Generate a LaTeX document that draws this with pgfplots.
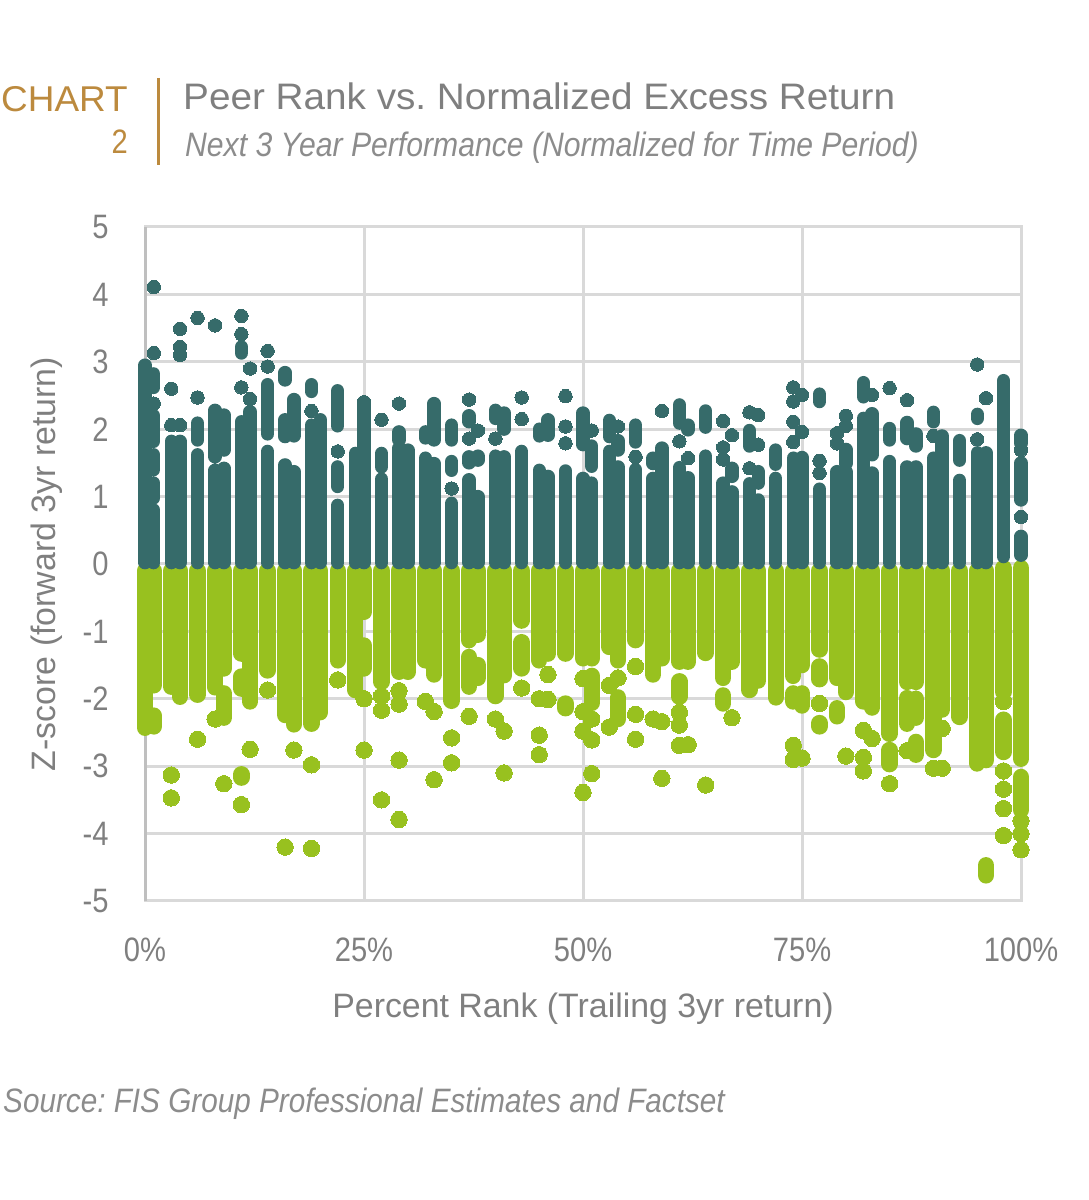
\documentclass[border=0pt]{standalone}
\usepackage{pgfplots}
\pgfplotsset{compat=1.18}
\usepackage{fontspec}
\setmainfont[FakeStretch=0.86]{Liberation Sans}
\newfontfamily\tlf[FakeStretch=1.05]{Liberation Sans}
\newfontfamily\chf[FakeStretch=1.03]{Liberation Sans}
\newfontfamily\lbf[FakeStretch=1.0]{Liberation Sans}
\newfontfamily\tsf[FakeStretch=0.89,ItalicFont={Liberation Sans Italic}]{Liberation Sans}
\newfontfamily\ttf[FakeStretch=0.877,ItalicFont={Liberation Sans Italic}]{Liberation Sans}
\definecolor{dk}{HTML}{366B6A}
\definecolor{gn}{HTML}{98C11F}
\definecolor{gr}{HTML}{D9D9D9}
\definecolor{ax}{HTML}{BFBFBF}
\definecolor{gd}{HTML}{BC8A3E}
\definecolor{tx}{HTML}{7F7F7F}
\definecolor{tx2}{HTML}{8C8C8C}
\frenchspacing
\begin{document}
\begin{tikzpicture}[x=1bp,y=1bp]
\useasboundingbox (0,0) rectangle (1089,1200);
\begin{axis}[
  at={(145bp,299bp)},anchor=south west,
  width=876bp,height=674bp,scale only axis,
  xmin=0,xmax=100,ymin=-5,ymax=5,clip=false,
  unbounded coords=jump,
  xtick={0,25,50,75,100},xticklabels={0\%,25\%,50\%,75\%,100\%},
  ytick={-5,-4,-3,-2,-1,0,1,2,3,4,5},yticklabels={-5,-4,-3,-2,-1,0,1,2,3,4,5},
  grid=major,
  grid style={gr,line width=3bp},
  axis line style={gr,line width=3bp},
  major tick length=0pt,
  tick label style={text=tx,font=\fontsize{34}{34}\selectfont},
  xticklabel style={yshift=-33bp},
  yticklabel style={xshift=-33bp},
  xlabel={Percent Rank (Trailing 3yr return)},
  ylabel={Z-score (forward 3yr return)},
  label style={text=tx,font=\fontsize{34}{34}\selectfont\lbf},
  xlabel style={at={(axis description cs:0.5,-0.16)},anchor=center},
  ylabel style={at={(axis description cs:-0.112,0.5)},anchor=center,rotate=0},
]
\addplot[ax,line width=3bp] coordinates {(0,-5)(0,5)};
% green runs of touching points
\addplot[gn,line width=16.4bp,line cap=round,line join=round] coordinates {
(0,-0.1)(0,-2.43)(0,nan) (1,-0.1)(1,-1.8)(1,nan) (1,-2.25)(1,-2.41)(1,nan)
(3,-0.1)(3,-1.82)(3,nan) (4,-0.1)(4,-1.97)(4,nan) (6,-0.1)(6,-1.94)(6,nan)
(8,-0.1)(8,-1.83)(8,nan) (9,-0.1)(9,-1.55)(9,nan) (9,-1.92)(9,-2.28)(9,nan)
(11,-0.1)(11,-1.33)(11,nan) (11,-1.67)(11,-1.85)(11,nan) (11,-3.12)(11,-3.17)(11,nan)
(12,-0.1)(12,-2.04)(12,nan) (14,-0.1)(14,-1.58)(14,nan) (16,-0.1)(16,-2.24)(16,nan)
(17,-0.1)(17,-2.38)(17,nan) (19,-0.1)(19,-2.37)(19,nan) (20,-0.1)(20,-2.2)(20,nan)
(22,-0.1)(22,-1.43)(22,nan) (24,-0.1)(24,-1.87)(24,nan) (25,-0.1)(25,-0.71)(25,nan)
(25,-1.21)(25,-1.55)(25,nan) (27,-0.1)(27,-1.75)(27,nan) (29,-0.1)(29,-1.6)(29,nan)
(30,-0.1)(30,-1.6)(30,nan) (32,-0.1)(32,-1.43)(32,nan) (33,-0.1)(33,-1.64)(33,nan)
(35,-0.1)(35,-2.03)(35,nan) (37,-0.1)(37,-1.13)(37,nan) (37,-1.38)(37,-1.82)(37,nan)
(38,-0.1)(38,-1.05)(38,nan) (38,-1.5)(38,-1.69)(38,nan) (40,-0.1)(40,-1.96)(40,nan)
(41,-0.1)(41,-1.65)(41,nan) (43,-0.1)(43,-0.84)(43,nan) (43,-1.16)(43,-1.55)(43,nan)
(45,-0.1)(45,-1.43)(45,nan) (46,-0.1)(46,-1.33)(46,nan) (48,-0.1)(48,-1.33)(48,nan)
(48,-2.07)(48,-2.14)(48,nan) (50,-0.1)(50,-1.4)(50,nan) (51,-0.1)(51,-1.4)(51,nan)
(51,-1.66)(51,-2.06)(51,nan) (53,-0.1)(53,-1.23)(53,nan) (54,-0.1)(54,-1.43)(54,nan)
(54,-1.98)(54,-2.3)(54,nan) (56,-0.1)(56,-1.13)(56,nan) (58,-0.1)(58,-1.64)(58,nan)
(59,-0.1)(59,-1.4)(59,nan) (61,-0.1)(61,-1.45)(61,nan) (61,-1.74)(61,-1.97)(61,nan)
(62,-0.1)(62,-1.45)(62,nan) (64,-0.1)(64,-1.32)(64,nan) (66,-0.1)(66,-1.69)(66,nan)
(66,-1.95)(66,-2.07)(66,nan) (67,-0.1)(67,-1.45)(67,nan) (69,-0.1)(69,-1.87)(69,nan)
(70,-0.1)(70,-1.73)(70,nan) (72,-0.1)(72,-1.98)(72,nan) (74,-0.1)(74,-1.66)(74,nan)
(74,-1.92)(74,-2.04)(74,nan) (75,-0.1)(75,-1.5)(75,nan) (75,-1.92)(75,-2.1)(75,nan)
(77,-0.1)(77,-1.27)(77,nan) (77,-1.52)(77,-1.71)(77,nan) (77,-2.36)(77,-2.41)(77,nan)
(79,-0.1)(79,-1.69)(79,nan) (79,-2.14)(79,-2.26)(79,nan) (80,-0.1)(80,-1.9)(80,nan)
(82,-0.1)(82,-2.04)(82,nan) (83,-0.1)(83,-2.13)(83,nan) (85,-0.1)(85,-2.52)(85,nan)
(85,-2.76)(85,-2.97)(85,nan) (87,-0.1)(87,-1.75)(87,nan) (87,-1.99)(87,-2.37)(87,nan)
(88,-0.1)(88,-1.75)(88,nan) (88,-2.0)(88,-2.28)(88,nan) (88,-2.64)(88,-2.83)(88,nan)
(90,-0.1)(90,-2.76)(90,nan) (91,-0.1)(91,-2.16)(91,nan) (93,-0.1)(93,-2.27)(93,nan)
(95,-0.1)(95,-2.96)(95,nan) (96,-0.1)(96,-2.91)(96,nan) (96,-4.47)(96,-4.62)(96,nan)
(98,-0.06)(98,-1.9)(98,nan) (98,-2.31)(98,-2.79)(98,nan)
(100,-0.06)(100,-2.89)(100,nan) (100,-3.16)(100,-3.65)(100,nan)
};
% green separate points
\addplot[gn,only marks,mark=*,mark size=8.2bp,line width=0pt,mark options={draw=gn,fill=gn}] coordinates {
(3,-3.13)(3,-3.47)(6,-2.6)(8,-2.3)(9,-3.26)(12,-2.75)(11,-3.57)(14,-1.87)
(16,-4.2)(17,-2.76)(19,-2.98)(19,-4.22)(22,-1.72)(25,-2.0)(25,-2.76)(27,-1.96)(27,-2.17)
(27,-3.5)(29,-1.88)(29,-2.08)(29,-2.91)(29,-3.79)(32,-2.04)(33,-2.19)(33,-3.2)
(35,-2.58)(35,-2.95)(37,-2.26)(40,-2.3)(41,-2.48)(41,-3.1)(43,-1.84)(45,-2.0)(45,-2.54)
(45,-2.83)(46,-1.64)(46,-2.01)(50,-1.7)(50,-2.19)(50,-2.48)(50,-3.39)(51,-2.3)(51,-2.61)
(51,-3.11)(53,-1.8)(53,-2.42)(54,-1.69)(56,-1.52)(56,-2.23)(56,-2.6)(58,-2.3)(59,-2.34)
(59,-3.18)(61,-2.2)(61,-2.39)(61,-2.69)(62,-2.68)(64,-3.28)(67,-2.28)(74,-2.69)(74,-2.9)
(75,-2.88)(77,-2.07)(80,-2.85)(82,-2.47)(82,-2.87)(82,-3.07)(83,-2.59)(85,-3.26)(87,-2.77)
(90,-3.03)(91,-2.44)(91,-3.03)(98,-2.04)(98,-3.07)(98,-3.34)(98,-3.63)(98,-4.03)
(100,-3.81)(100,-4.0)(100,-4.24)
};
% dark runs of touching points
\addplot[dk,line width=13.4bp,line cap=round,line join=round] coordinates {
(0,2.95)(0,0.02)(0,nan) (1,2.82)(1,2.62)(1,nan) (1,2.2)(1,1.82)(1,nan) (1,1.62)(1,1.4)(1,nan)
(1,1.2)(1,0.98)(1,nan) (1,0.8)(1,0.02)(1,nan) (3,1.82)(3,0.02)(3,nan) (4,1.82)(4,0.02)(4,nan)
(6,2.09)(6,1.84)(6,nan) (6,1.62)(6,0.02)(6,nan) (8,2.28)(8,1.59)(8,nan) (8,1.39)(8,0.02)(8,nan)
(9,2.21)(9,1.69)(9,nan) (9,1.42)(9,0.02)(9,nan) (11,3.22)(11,3.13)(11,nan) (11,2.11)(11,0.02)(11,nan)
(12,2.26)(12,0.02)(12,nan) (14,2.66)(14,1.93)(14,nan) (14,1.67)(14,0.02)(14,nan)
(16,2.84)(16,2.73)(16,nan) (16,2.14)(16,1.89)(16,nan) (16,1.47)(16,0.02)(16,nan)
(17,2.44)(17,1.9)(17,nan) (17,1.37)(17,0.02)(17,nan) (19,2.66)(19,2.56)(19,nan) (19,2.06)(19,0.02)(19,nan)
(20,2.14)(20,0.02)(20,nan) (22,2.57)(22,2.05)(22,nan) (22,1.44)(22,1.15)(22,nan) (22,0.87)(22,0.02)(22,nan)
(24,1.64)(24,0.02)(24,nan) (25,2.4)(25,0.02)(25,nan) (27,1.64)(27,1.44)(27,nan) (27,1.26)(27,0.02)(27,nan)
(29,1.96)(29,1.84)(29,nan) (29,1.72)(29,0.02)(29,nan) (30,1.69)(30,0.02)(30,nan)
(32,1.96)(32,1.87)(32,nan) (32,1.57)(32,0.02)(32,nan) (33,2.38)(33,1.84)(33,nan) (33,1.49)(33,0.02)(33,nan)
(35,2.06)(35,1.84)(35,nan) (35,1.52)(35,1.39)(35,nan) (35,0.9)(35,0.02)(35,nan)
(37,2.2)(37,2.11)(37,nan) (37,1.59)(37,1.5)(37,nan) (37,1.25)(37,0.02)(37,nan)
(38,1.6)(38,1.54)(38,nan) (38,1.0)(38,0.02)(38,nan) (40,2.28)(40,2.16)(40,nan) (40,1.6)(40,0.02)(40,nan)
(41,2.24)(41,2.0)(41,nan) (41,1.59)(41,0.02)(41,nan) (43,1.67)(43,0.02)(43,nan)
(45,2.0)(45,1.9)(45,nan) (45,1.39)(45,0.02)(45,nan) (46,2.14)(46,1.91)(46,nan) (46,1.3)(46,0.02)(46,nan)
(48,1.38)(48,0.02)(48,nan) (50,2.24)(50,1.77)(50,nan) (50,1.27)(50,0.02)(50,nan)
(51,1.75)(51,1.45)(51,nan) (51,1.2)(51,0.02)(51,nan) (53,2.13)(53,1.89)(53,nan) (53,1.67)(53,0.02)(53,nan)
(54,1.83)(54,1.69)(54,nan) (54,1.44)(54,0.02)(54,nan) (56,2.06)(56,1.81)(56,nan) (56,1.4)(56,0.02)(56,nan)
(58,1.57)(58,1.49)(58,nan) (58,1.27)(58,0.02)(58,nan) (59,1.72)(59,0.02)(59,nan)
(61,2.36)(61,2.09)(61,nan) (61,1.43)(61,0.02)(61,nan) (62,2.06)(62,1.99)(62,nan) (62,1.28)(62,0.02)(62,nan)
(64,2.27)(64,2.03)(64,nan) (64,1.6)(64,0.02)(64,nan) (66,1.2)(66,0.02)(66,nan)
(67,1.42)(67,1.3)(67,nan) (67,1.07)(67,0.02)(67,nan) (69,1.98)(69,1.75)(69,nan) (69,1.19)(69,0.02)(69,nan)
(70,1.37)(70,1.2)(70,nan) (70,0.95)(70,0.02)(70,nan) (72,1.69)(72,1.48)(72,nan) (72,1.27)(72,0.02)(72,nan)
(74,1.57)(74,0.02)(74,nan) (75,1.58)(75,0.02)(75,nan) (77,2.52)(77,2.41)(77,nan) (77,1.11)(77,0.02)(77,nan)
(79,1.37)(79,0.02)(79,nan) (80,1.7)(80,1.49)(80,nan) (80,1.37)(80,0.02)(80,nan)
(82,2.69)(82,2.48)(82,nan) (82,2.16)(82,0.02)(82,nan) (83,2.23)(83,1.62)(83,nan) (83,1.35)(83,0.02)(83,nan)
(85,2.01)(85,1.84)(85,nan) (85,1.52)(85,0.02)(85,nan) (87,2.1)(87,1.86)(87,nan) (87,1.44)(87,0.02)(87,nan)
(88,1.93)(88,1.75)(88,nan) (88,1.44)(88,0.02)(88,nan) (90,2.25)(90,2.11)(90,nan) (90,1.57)(90,0.02)(90,nan)
(91,1.9)(91,0.02)(91,nan) (93,1.83)(93,1.54)(93,nan) (93,1.24)(93,0.02)(93,nan)
(95,2.22)(95,2.16)(95,nan) (95,1.65)(95,0.02)(95,nan) (96,1.65)(96,0.02)(96,nan)
(98,2.72)(98,0.11)(98,nan) (100,1.91)(100,1.79)(100,nan) (100,1.5)(100,0.95)(100,nan) (100,0.41)(100,0.13)(100,nan)
};
% dark separate points
\addplot[dk,only marks,mark=*,mark size=6.7bp,line width=0pt,mark options={draw=dk,fill=dk}] coordinates {
(1,4.11)(1,3.13)(1,2.38)(3,2.6)(3,2.06)(4,3.49)(4,3.22)(4,3.1)(4,2.06)(6,3.65)(6,2.47)(8,3.54)
(11,3.68)(11,3.41)(11,2.62)(12,2.9)(12,2.45)(14,3.16)(14,2.93)(19,2.27)(22,1.67)(25,2.4)(27,2.14)
(29,2.38)(35,1.12)(37,2.44)(37,1.86)(38,1.98)(40,1.86)(43,2.47)(43,2.15)(48,2.49)(48,2.04)(48,1.79)
(51,1.98)(54,2.04)(56,1.59)(59,2.27)(61,1.82)(62,1.57)(66,2.12)(66,1.73)(66,1.55)(67,1.91)
(69,2.25)(69,1.42)(70,2.21)(70,1.77)(74,2.62)(74,2.41)(74,2.11)(74,1.81)(75,2.51)(75,1.96)
(77,1.53)(77,1.35)(79,1.94)(79,1.79)(80,2.2)(80,2.05)(83,2.51)(85,2.61)(87,2.43)(90,1.9)
(95,2.96)(95,1.85)(96,2.46)(100,1.69)(100,0.7)
};
\end{axis}
\node[anchor=base east,text=gd,font=\fontsize{36}{36}\selectfont\chf,inner sep=0pt] at (128,1088) {CHART};
\node[anchor=base east,text=gd,font=\fontsize{34}{34}\selectfont,inner sep=0pt] at (128,1046) {2};
\draw[gd,line width=3bp] (158,1122) -- (158,1035);
\node[anchor=base west,text=tx,font=\fontsize{37}{37}\selectfont\tlf,inner sep=0pt] at (183,1090) {Peer Rank vs. Normalized Excess Return};
\node[anchor=base west,text=tx2,font=\fontsize{34}{34}\selectfont\tsf\itshape,inner sep=0pt] at (185,1043) {Next 3 Year Performance (Normalized for Time Period)};
\node[anchor=base west,text=tx2,font=\fontsize{34}{34}\selectfont\ttf\itshape,inner sep=0pt] at (3,87) {Source: FIS Group Professional Estimates and Factset};
\end{tikzpicture}
\end{document}
